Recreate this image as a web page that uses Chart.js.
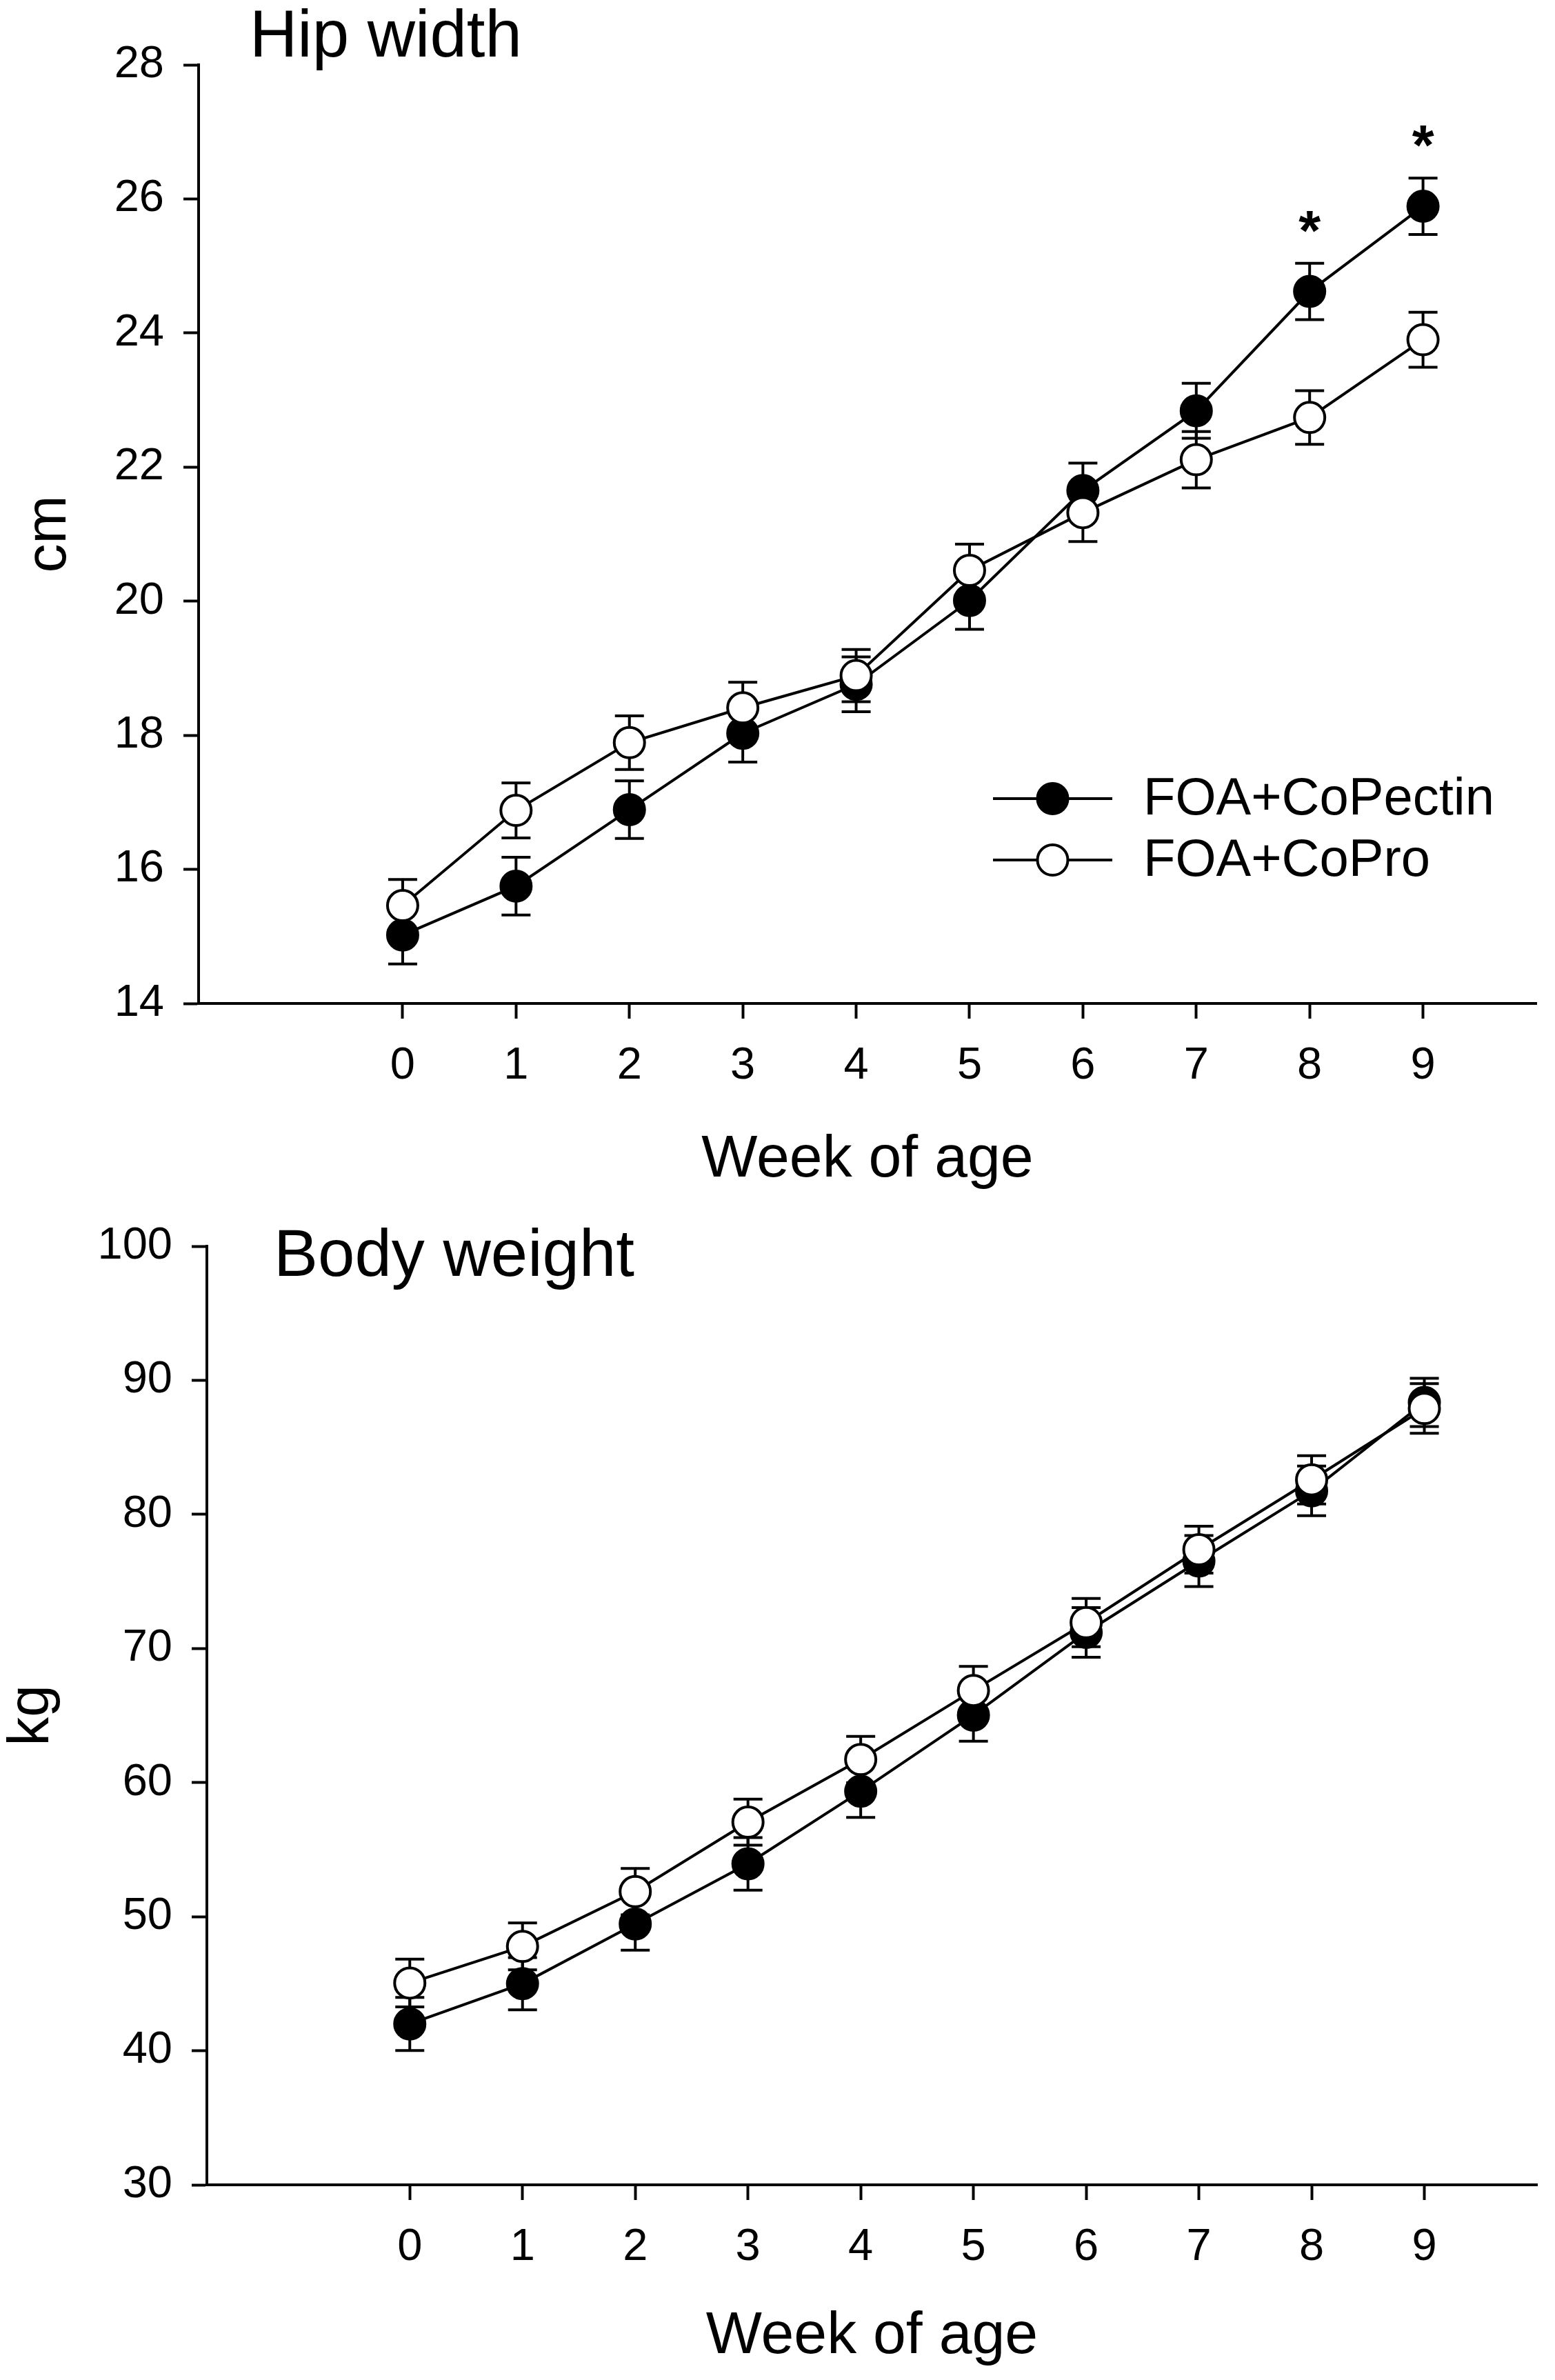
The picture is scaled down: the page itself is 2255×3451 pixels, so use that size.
<!DOCTYPE html>
<html>
<head>
<meta charset="utf-8">
<title>Hip width and body weight</title>
<script src="https://cdn.jsdelivr.net/npm/chart.js@4.4.1/dist/chart.umd.min.js"></script>
<style>
  html, body { margin: 0; padding: 0; background: #fff; }
  canvas { display: block; }
</style>
</head>
<body>
<canvas id="hipChart" width="2255" height="1740"></canvas>
<canvas id="weightChart" width="2255" height="1711"></canvas>
<script>
// weeks on the x axis, shared by both panels
const weeks = [0, 1, 2, 3, 4, 5, 6, 7, 8, 9];
const seriesNames = ["FOA+CoPectin", "FOA+CoPro"];

// Hip width, cm (mean and SEM)
const hipPectin = [15.02, 15.75, 16.89, 18.03, 18.76, 20.01, 21.65, 22.84, 24.62, 25.89];
const hipPectinSem = [0.43, 0.43, 0.43, 0.43, 0.41, 0.43, 0.41, 0.41, 0.42, 0.42];
const hipPro = [15.46, 16.88, 17.89, 18.41, 18.89, 20.46, 21.32, 22.11, 22.74, 23.9];
const hipProSem = [0.39, 0.41, 0.4, 0.38, 0.39, 0.39, 0.43, 0.42, 0.4, 0.41];
const hipStars = [8, 9];
const hipTicks = [14, 16, 18, 20, 22, 24, 26, 28];

// Body weight, kg (mean and SEM)
const weightPectin = [42.0, 45.0, 49.45, 53.94, 59.35, 65.03, 71.2, 76.52, 81.75, 88.35];
const weightPectinSem = [1.98, 1.95, 1.95, 1.96, 1.95, 1.95, 1.85, 1.9, 1.85, 1.8];
const weightPro = [45.05, 47.78, 51.87, 57.05, 61.72, 66.87, 71.93, 77.37, 82.58, 87.9];
const weightProSem = [1.78, 1.75, 1.73, 1.72, 1.73, 1.79, 1.8, 1.75, 1.8, 1.85];
const weightTicks = [30, 40, 50, 60, 70, 80, 90, 100];

const FONT = "'Liberation Sans', Arial, sans-serif";
Chart.defaults.font.family = FONT;
Chart.defaults.color = "#000";

function toPoints(values) {
    return weeks.map((w, i) => ({ x: w, y: values[i] }));
}

// vertical SEM bars with caps, drawn under the markers
const errorBars = {
    id: "errorBars",
    beforeDatasetsDraw(chart) {
        const ctx = chart.ctx;
        const xs = chart.scales.x, ys = chart.scales.y;
        ctx.save();
        ctx.strokeStyle = "#000";
        ctx.lineWidth = 4;
        chart.data.datasets.forEach(ds => {
            ds.data.forEach((p, i) => {
                const px = xs.getPixelForValue(p.x);
                const top = ys.getPixelForValue(p.y + ds.sem[i]);
                const bot = ys.getPixelForValue(p.y - ds.sem[i]);
                ctx.beginPath();
                ctx.moveTo(px, top); ctx.lineTo(px, bot);
                ctx.moveTo(px - 21, top); ctx.lineTo(px + 21, top);
                ctx.moveTo(px - 21, bot); ctx.lineTo(px + 21, bot);
                ctx.stroke();
            });
        });
        ctx.restore();
    }
};

// panel title, asterisks and the legend
const extras = {
    id: "extras",
    afterDraw(chart, args, opts) {
        const ctx = chart.ctx;
        const xs = chart.scales.x, ys = chart.scales.y;
        ctx.save();
        ctx.fillStyle = "#000";

        ctx.font = "96px " + FONT;
        ctx.textAlign = "left";
        ctx.textBaseline = "alphabetic";
        ctx.fillText(opts.title, opts.titleX, opts.titleY);

        if (opts.stars) {
            const ds = chart.data.datasets[0];
            ctx.font = "bold 82px " + FONT;
            ctx.textAlign = "center";
            opts.stars.forEach(w => {
                const i = weeks.indexOf(w);
                const px = xs.getPixelForValue(w);
                const top = ys.getPixelForValue(ds.data[i].y + ds.sem[i]);
                ctx.fillText("*", px, top - 67 + 47);
            });
        }

        if (opts.legend) {
            const lg = opts.legend;
            ctx.font = "76px " + FONT;
            ctx.textAlign = "left";
            ctx.textBaseline = "middle";
            chart.data.datasets.forEach((ds, k) => {
                const y = lg.y + k * lg.rowGap;
                ctx.strokeStyle = "#000";
                ctx.lineWidth = 4;
                ctx.beginPath();
                ctx.moveTo(lg.x, y);
                ctx.lineTo(lg.x + lg.lineLen, y);
                ctx.stroke();
                ctx.beginPath();
                ctx.arc(lg.x + lg.lineLen / 2, y, 22, 0, Math.PI * 2);
                ctx.fillStyle = ds.pointBackgroundColor;
                ctx.fill();
                ctx.stroke();
                ctx.fillStyle = "#000";
                ctx.fillText(ds.label, lg.x + lg.lineLen + 45, y + 2);
            });
        }
        ctx.restore();
    }
};

function makeChart(id, cfg) {
    const datasets = [
        {
            label: seriesNames[0], data: toPoints(cfg.pectin), sem: cfg.pectinSem,
            borderColor: "#000", borderWidth: 4, pointRadius: 22, pointBorderWidth: 4,
            pointBackgroundColor: "#000", pointBorderColor: "#000", tension: 0, order: 2
        },
        {
            label: seriesNames[1], data: toPoints(cfg.pro), sem: cfg.proSem,
            borderColor: "#000", borderWidth: 4, pointRadius: 22, pointBorderWidth: 4,
            pointBackgroundColor: "#fff", pointBorderColor: "#000", tension: 0, order: 1
        }
    ];

    return new Chart(document.getElementById(id), {
        type: "line",
        data: { datasets: datasets },
        plugins: [errorBars, extras],
        options: {
            responsive: false,
            devicePixelRatio: 1,
            animation: false,
            events: [],
            clip: false,
            layout: { padding: cfg.padding },
            plugins: {
                legend: { display: false },
                tooltip: { enabled: false },
                extras: cfg.extras
            },
            scales: {
                x: {
                    type: "linear",
                    min: -1.8,
                    max: 10,
                    afterBuildTicks: s => { s.ticks = weeks.map(v => ({ value: v })); },
                    afterFit: s => { s.height = cfg.xHeight; },
                    border: { display: true, color: "#000", width: 4 },
                    grid: { drawOnChartArea: false, drawTicks: true, tickLength: 22, tickWidth: 4, tickColor: "#000" },
                    ticks: { font: { size: 65 }, padding: 30, color: "#000", maxRotation: 0 },
                    title: { display: true, text: "Week of age", font: { size: 86 }, color: "#000", padding: { top: 0, bottom: 0 } }
                },
                y: {
                    type: "linear",
                    min: cfg.ticks[0],
                    max: cfg.ticks[cfg.ticks.length - 1],
                    afterBuildTicks: s => { s.ticks = cfg.ticks.map(v => ({ value: v })); },
                    afterFit: s => { s.width = cfg.yWidth; },
                    border: { display: true, color: "#000", width: 4 },
                    grid: { drawOnChartArea: false, drawTicks: true, tickLength: 22, tickWidth: 4, tickColor: "#000" },
                    ticks: { font: { size: 65 }, padding: 28, color: "#000" },
                    title: { display: true, text: cfg.yTitle, font: { size: 84 }, color: "#000", padding: cfg.yTitlePad }
                }
            }
        }
    });
}

makeChart("hipChart", {
    pectin: hipPectin, pectinSem: hipPectinSem,
    pro: hipPro, proSem: hipProSem,
    ticks: hipTicks,
    yTitle: "cm",
    yTitlePad: { top: 21, bottom: 0 },
    padding: { top: 94, right: 27, bottom: 6, left: 0 },
    yWidth: 288,
    xHeight: 279,
    extras: {
        title: "Hip width", titleX: 362, titleY: 82,
        stars: hipStars,
        legend: { x: 1440, y: 1158, rowGap: 89, lineLen: 173 }
    }
});

makeChart("weightChart", {
    pectin: weightPectin, pectinSem: weightPectinSem,
    pro: weightPro, proSem: weightProSem,
    ticks: weightTicks,
    yTitle: "kg",
    yTitlePad: { top: -4, bottom: 0 },
    padding: { top: 67, right: 14, bottom: 11, left: 0 },
    yWidth: 300,
    xHeight: 272,
    extras: {
        title: "Body weight", titleX: 397, titleY: 110
    }
});
</script>
</body>
</html>
